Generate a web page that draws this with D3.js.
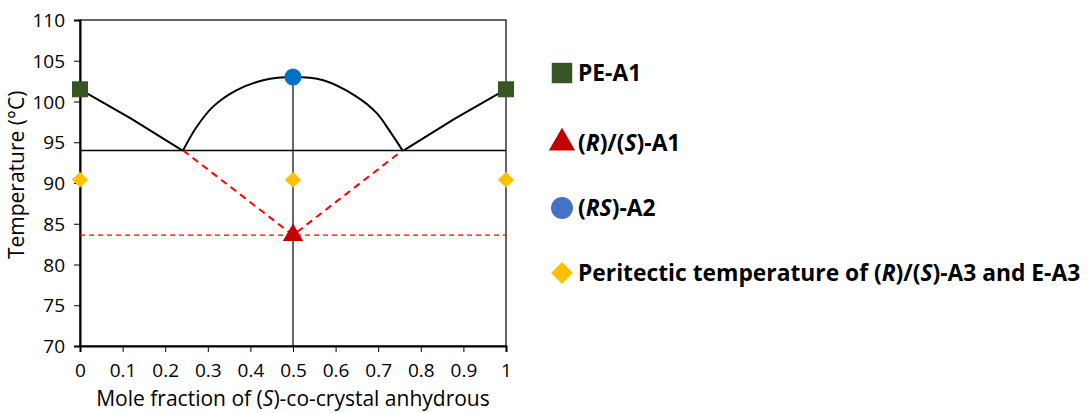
<!DOCTYPE html>
<html>
<head>
<meta charset="utf-8">
<script src="https://cdn.jsdelivr.net/npm/d3@7"></script>
<style>
  body { margin: 0; background: #fff; }
  text { font-family: "Open Sans", "Liberation Sans", sans-serif; }
</style>
</head>
<body>
<script>
var w = 1088;
var h = 413;

// data
var xTicks = [0, 0.1, 0.2, 0.3, 0.4, 0.5, 0.6, 0.7, 0.8, 0.9, 1];
var yTicks = [70, 75, 80, 85, 90, 95, 100, 105, 110];

var leftLiquidus = [[0, 101.5], [0.12, 97.9], [0.24, 94]];
var rightLiquidus = [[0.76, 94], [0.88, 97.9], [1, 101.5]];
var domeLiquidus = [[0.242, 94], [0.274, 96.9], [0.313, 99.4], [0.368, 101.4], [0.43, 102.6],
                    [0.5, 103], [0.571, 102.6], [0.649, 100.6], [0.696, 98.6], [0.728, 96.3], [0.757, 94]];
var eutecticLine = [[0, 94], [1, 94]];
var metastableV = [[0.242, 94], [0.5, 83.6], [0.757, 94]];
var metastableLine = [[0, 83.6], [1, 83.6]];
var centerLine = [[0.5, 70], [0.5, 103]];

var peA1 = [[0, 101.5], [1, 101.5]];
var rsA1 = [[0.5, 83.6]];
var rsA2 = [[0.5, 103]];
var peritectic = [[0, 90.4], [0.5, 90.4], [1, 90.4]];

var legendItems = [
  {shape: d3.symbolSquare, color: "#375623", parts: [["PE-A1", false]]},
  {shape: d3.symbolTriangle, color: "#c00000", parts: [["(", false], ["R", true], [")/(", false], ["S", true], [")-A1", false]]},
  {shape: d3.symbolCircle, color: "#4472c4", parts: [["(", false], ["RS", true], [")-A2", false]]},
  {shape: d3.symbolSquare, color: "#ffc000", parts: [["Peritectic temperature of (", false], ["R", true], [")/(", false], ["S", true], [")-A3 and E-A3", false]]}
];

var svg = d3.select("body").append("svg")
            .attr("width", w)
            .attr("height", h);

var x = d3.scaleLinear().domain([0, 1]).range([80, 506]);
var y = d3.scaleLinear().domain([70, 110]).range([346, 20]);

var line = d3.line().x(function(d) { return x(d[0]); }).y(function(d) { return y(d[1]); });
var curve = d3.line().x(function(d) { return x(d[0]); }).y(function(d) { return y(d[1]); })
              .curve(d3.curveCatmullRom.alpha(0.5));

// frame
svg.append("rect")
   .attr("x", x(0)).attr("y", y(110))
   .attr("width", x(1) - x(0)).attr("height", y(70) - y(110))
   .attr("fill", "none").attr("stroke", "#000").attr("stroke-width", 1.2);

// axes
var yAxis = svg.append("g")
   .attr("transform", "translate(" + x(0) + ",0)")
   .call(d3.axisLeft(y).tickValues(yTicks).tickSize(6).tickPadding(9));
var xAxis = svg.append("g")
   .attr("transform", "translate(0," + y(70) + ")")
   .call(d3.axisBottom(x).tickValues(xTicks).tickSize(6).tickPadding(12)
         .tickFormat(function(d) { return d3.format("")(d); }));
[yAxis, xAxis].forEach(function(g) {
  g.select(".domain").attr("stroke-width", 2);
  g.selectAll("text").attr("font-size", 19).attr("fill", "#000")
   .style("font-family", "'Open Sans', sans-serif");
});
yAxis.selectAll("text").attr("dy", "0.35em");

svg.append("text")
   .attr("transform", "translate(24," + y(91) + ") rotate(-90)")
   .attr("text-anchor", "middle")
   .attr("font-size", 21)
   .text("Temperature (°C)");

var xt = svg.append("text")
   .attr("x", x(0.5)).attr("y", 406)
   .attr("text-anchor", "middle")
   .attr("font-size", 21);
xt.append("tspan").text("Mole fraction of (");
xt.append("tspan").attr("font-style", "italic").text("S");
xt.append("tspan").text(")-co-crystal anhydrous");

// lines
svg.append("path").datum(centerLine).attr("d", line)
   .attr("fill", "none").attr("stroke", "#000").attr("stroke-width", 1.2);
svg.append("path").datum(eutecticLine).attr("d", line)
   .attr("fill", "none").attr("stroke", "#000").attr("stroke-width", 1.5);
svg.append("path").datum(metastableLine).attr("d", line)
   .attr("fill", "none").attr("stroke", "#ff0000").attr("stroke-width", 1.3)
   .attr("stroke-dasharray", "5,4");
svg.append("path").datum(metastableV).attr("d", line)
   .attr("fill", "none").attr("stroke", "#ff0000").attr("stroke-width", 2)
   .attr("stroke-dasharray", "7,5");
[leftLiquidus, rightLiquidus].forEach(function(d) {
  svg.append("path").datum(d).attr("d", line)
     .attr("fill", "none").attr("stroke", "#000").attr("stroke-width", 2);
});
svg.append("path").datum(domeLiquidus).attr("d", curve)
   .attr("fill", "none").attr("stroke", "#000").attr("stroke-width", 2);

// markers
function markers(data, shape, size, color, rot) {
  svg.selectAll(null).data(data).enter().append("path")
     .attr("d", d3.symbol().type(shape).size(size))
     .attr("transform", function(d) {
       return "translate(" + x(d[0]) + "," + y(d[1]) + ") rotate(" + (rot || 0) + ")";
     })
     .attr("fill", color);
}
markers(peritectic, d3.symbolSquare, 130, "#ffc000", 45);
markers(peA1, d3.symbolSquare, 256, "#375623");
markers(rsA1, d3.symbolTriangle, 180, "#c00000");
markers(rsA2, d3.symbolCircle, 230, "#0070c0");

// legend
var legendY = [73, 143, 208, 273];
var legendSizes = [420, 300, 380, 240];
var legendRot = [0, 0, 0, 45];
legendItems.forEach(function(item, i) {
  svg.append("path")
     .attr("d", d3.symbol().type(item.shape).size(legendSizes[i]))
     .attr("transform", "translate(562," + legendY[i] + ") rotate(" + legendRot[i] + ")")
     .attr("fill", item.color);
  var t = svg.append("text")
     .attr("x", 578).attr("y", legendY[i])
     .attr("dy", "0.35em")
     .attr("font-size", 22.8)
     .attr("font-weight", "bold");
  item.parts.forEach(function(p) {
    var s = t.append("tspan").text(p[0]);
    if (p[1]) s.attr("font-style", "italic");
  });
});
</script>
</body>
</html>
